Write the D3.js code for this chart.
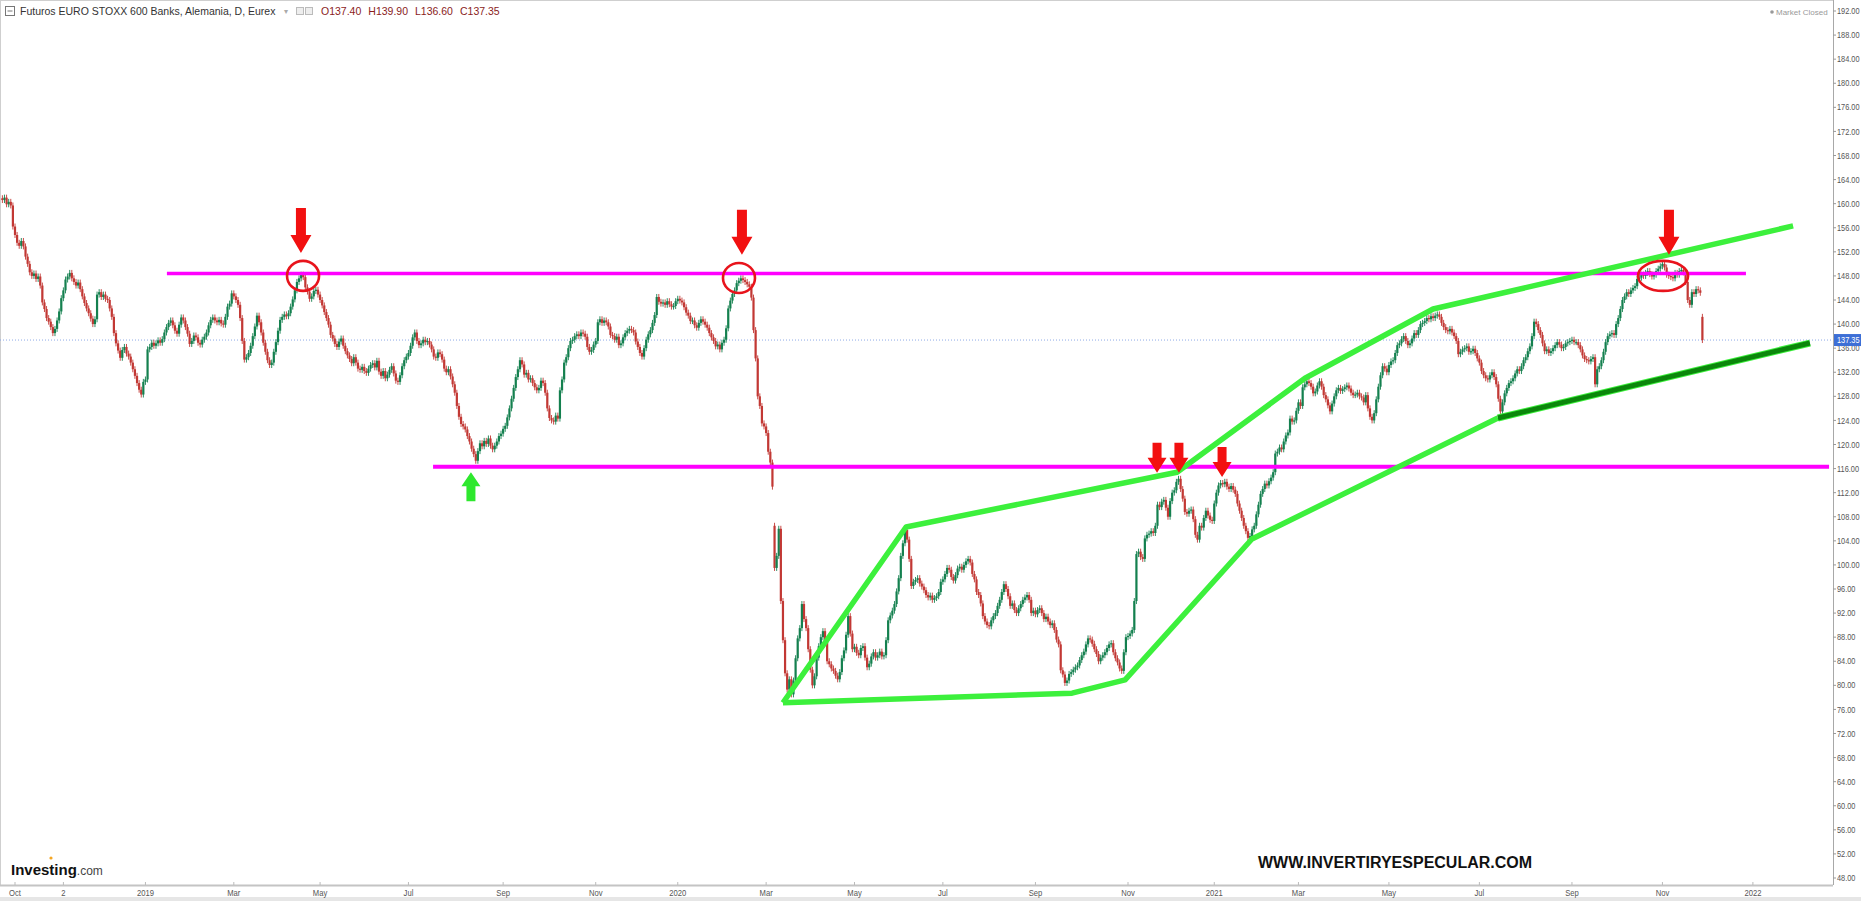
<html>
<head>
<meta charset="utf-8">
<script src="https://cdn.jsdelivr.net/npm/d3@7"></script>
<style>
	body { margin:0; background:#fff; }
	text { font-family: "Liberation Sans", Arial, sans-serif; }
	.ax { font-size:9px; fill:#555; }
</style>
</head>
<body>
<script type="text/javascript">

// ---- data (daily futures closes, first candle 2018-09-21) ----
var firstDay = "2018-09-21";
var lastCalendarDay = "2022-02-28";
// eurex days without a session
var holidays = ["2018-12-24","2018-12-25","2018-12-26","2018-12-31","2019-01-01","2019-04-19","2019-04-22","2019-05-01",
	"2019-12-24","2019-12-25","2019-12-26","2019-12-31","2020-01-01","2020-04-10","2020-04-13","2020-05-01",
	"2020-12-24","2020-12-25","2020-12-31","2021-01-01","2021-04-02","2021-04-05","2021-12-24","2021-12-31"];

var closes = [
	160.6,161.0,159.9,160.3,159.7,156.2,
	154.8,153.5,153.0,153.8,152.9,151.2,150.0,148.6,148.0,148.4,
	147.5,147.9,146.4,143.6,142.5,141.0,140.4,139.5,138.5,139.2,
	140.6,142.1,144.3,145.6,147.4,147.9,148.5,147.6,147.0,146.4,
	146.9,145.8,144.6,143.5,142.6,141.8,140.9,140.0,140.8,144.9,
	145.3,144.5,144.9,144.2,144.0,142.6,141.2,138.5,136.8,135.6,
	134.4,135.7,136.2,135.1,134.6,133.6,132.5,131.4,130.2,129.1,
	128.3,130.4,130.8,135.8,136.2,136.9,136.4,136.8,137.3,136.9,
	137.5,138.6,139.5,140.2,140.6,139.8,138.9,138.4,139.9,141.1,
	140.6,139.5,138.4,136.7,137.2,138.1,137.8,136.9,136.6,137.4,
	137.9,138.6,139.8,140.7,141.1,140.6,140.3,140.7,140.1,139.9,
	141.2,142.9,143.4,145.1,144.6,144.0,143.2,141.0,137.2,134.1,
	134.5,135.2,136.4,138.0,139.6,141.4,140.3,138.6,136.9,135.4,
	134.0,133.2,133.6,135.4,137.0,138.9,140.7,141.2,141.6,141.3,
	141.8,142.9,144.1,145.6,147.0,147.6,148.2,147.8,146.1,145.4,
	144.2,144.6,145.5,145.7,144.9,144.0,143.1,142.0,141.0,139.9,
	138.2,137.6,136.7,136.2,137.1,137.6,136.4,135.5,134.8,134.2,
	133.5,134.5,133.6,132.6,132.4,132.9,132.2,131.9,132.6,133.2,
	133.5,132.8,133.9,132.1,131.4,132.2,131.0,131.6,132.4,133.0,
	131.8,130.6,130.4,131.5,133.0,134.0,134.6,135.2,136.4,137.8,
	138.6,137.2,136.5,136.8,137.4,137.0,137.2,136.6,135.8,134.6,
	134.4,135.3,135.0,134.1,132.6,132.0,132.5,131.3,130.0,128.6,
	126.4,124.6,123.4,123.0,122.5,121.4,120.5,119.3,118.4,117.3,
	118.9,120.2,119.7,120.6,120.1,121.0,119.8,119.2,119.8,120.5,
	121.4,121.8,122.6,123.1,124.5,126.0,127.6,129.4,131.2,132.5,
	134.0,133.3,131.6,131.9,130.8,131.0,130.2,129.5,129.0,129.4,
	130.6,130.2,128.6,126.0,124.4,124.0,123.8,124.8,124.3,129.0,
	130.8,133.6,134.5,136.0,137.2,137.4,138.0,138.3,138.0,138.6,
	138.4,137.9,136.2,135.4,135.7,136.6,137.2,140.3,140.8,140.2,
	140.6,140.3,139.6,138.2,138.0,137.4,137.9,136.5,136.8,137.8,
	138.5,138.9,139.2,139.0,138.6,137.1,136.2,135.2,134.6,136.0,
	137.4,138.3,139.0,140.2,141.5,144.5,143.7,143.4,143.6,143.2,
	143.8,143.3,142.9,143.0,143.8,144.2,143.9,143.6,142.8,141.9,
	141.4,140.5,140.6,139.8,139.4,140.2,140.8,140.4,139.9,139.4,
	138.5,137.8,137.2,136.3,136.6,135.8,136.9,137.4,139.3,142.6,
	143.9,145.0,145.6,146.8,147.2,147.6,147.3,147.0,146.6,146.2,
	144.4,139.0,134.3,128.0,126.4,123.5,123.0,121.9,118.8,117.0,
	113.0,99.5,101.5,106.0,94.0,87.5,82.0,79.3,81.0,78.5,
	80.8,84.5,87.8,89.5,93.5,91.0,89.5,86.0,82.6,80.0,
	81.5,84.6,86.5,88.0,89.0,87.2,84.0,83.5,82.8,82.4,
	81.6,81.0,82.2,84.5,85.8,88.4,91.5,88.6,86.0,86.4,
	85.4,85.0,86.2,86.5,84.6,83.0,83.6,84.8,85.5,84.6,
	85.0,85.6,84.8,85.0,87.5,90.8,91.6,92.4,93.5,95.6,
	97.8,101.5,103.6,105.8,104.2,101.0,96.5,97.2,97.5,97.8,
	96.9,96.4,95.8,95.0,94.6,94.9,94.2,94.5,94.8,95.5,
	97.2,97.6,98.5,99.5,99.2,98.0,97.4,98.3,99.4,99.7,
	99.2,100.0,100.6,101.0,100.4,98.5,97.6,95.5,95.0,93.6,
	91.5,90.6,90.0,89.8,90.8,91.5,92.0,93.2,94.2,95.5,
	96.8,96.0,94.8,93.2,93.6,92.5,92.0,92.8,93.5,94.2,
	94.6,95.0,94.2,92.0,92.4,91.8,92.5,92.8,92.0,91.0,
	91.4,90.6,90.0,90.3,89.2,87.6,86.8,82.5,81.8,80.4,
	80.8,81.9,82.2,82.6,83.0,83.3,84.2,85.0,85.6,86.8,
	87.8,87.6,86.9,86.0,85.2,84.0,84.6,85.0,85.5,86.2,
	86.8,87.0,85.5,84.5,83.8,82.8,82.4,85.5,88.0,88.2,
	88.6,89.2,94.0,101.8,102.2,101.3,101.0,104.4,105.0,105.2,
	105.6,105.3,106.5,110.0,109.6,110.5,110.8,109.5,108.0,110.6,
	112.0,112.4,113.8,114.3,112.6,111.0,108.8,108.5,109.0,109.2,
	107.6,105.0,104.2,106.5,106.2,107.8,109.0,108.2,107.5,107.3,
	110.2,112.0,113.2,113.6,113.4,113.8,113.0,112.6,113.1,112.5,
	111.8,110.2,109.0,107.8,106.5,105.6,104.5,104.8,105.9,106.5,
	108.4,110.0,111.8,112.6,113.5,113.2,113.9,114.5,115.4,118.5,
	118.8,119.5,119.2,120.5,121.5,122.0,124.3,123.8,124.0,125.6,
	127.0,126.4,129.5,130.0,130.5,130.2,129.6,128.5,128.8,129.8,
	130.5,129.6,128.2,127.5,126.5,125.5,126.8,128.0,129.0,129.4,
	128.9,129.2,129.5,129.8,129.3,128.6,128.2,128.3,128.6,128.0,
	127.8,127.0,128.2,126.0,124.6,124.0,125.2,127.5,129.6,131.5,
	133.0,132.6,132.0,133.2,133.8,134.0,135.2,136.5,136.8,137.5,
	138.0,137.2,136.5,136.8,137.6,138.5,138.2,139.0,140.0,140.2,
	140.5,141.0,140.8,141.3,141.0,141.4,141.6,141.2,140.2,139.5,
	139.0,138.8,139.2,138.6,138.0,137.2,135.0,135.4,135.8,136.0,
	136.3,135.4,135.5,135.9,135.2,134.3,133.6,132.2,131.5,131.0,
	130.8,131.5,132.0,131.2,130.0,127.6,125.5,127.0,128.5,129.4,
	130.2,130.5,131.0,131.8,132.5,132.2,133.0,134.0,134.5,135.5,
	136.3,138.0,140.4,140.0,139.0,138.2,136.8,135.5,135.8,135.2,
	135.5,136.0,136.5,137.0,136.6,136.0,136.2,136.8,137.0,137.2,
	137.4,137.0,137.0,136.5,135.8,134.8,134.2,134.0,133.8,134.2,
	134.5,130.0,132.5,133.0,134.0,135.4,137.0,138.0,138.3,138.5,
	138.2,140.0,141.0,142.5,144.0,144.6,145.3,145.0,145.6,146.0,
	146.3,147.5,147.7,148.2,148.0,148.5,148.8,148.3,147.9,148.2,
	148.8,149.2,149.6,150.0,149.4,148.2,148.0,147.8,147.6,148.5,
	148.2,148.8,149.0,148.6,147.0,144.0,143.2,145.3,145.0,145.8,
	145.6,145.2,137.35
];
// opens that do not equal the previous close (candle number -> open)
var gapOpens = { 0: 160.9, 367: 106.5, 808: 141.2 };

var lastBar = { o: "137.40", h: "139.90", l: "136.60", c: "137.35" };

var tickDates  = ["2018-10-01","2018-11-01","2019-01-01","2019-03-01","2019-05-01","2019-07-01","2019-09-01","2019-11-01",
	"2020-01-01","2020-03-01","2020-05-01","2020-07-01","2020-09-01","2020-11-01","2021-01-01","2021-03-01",
	"2021-05-01","2021-07-01","2021-09-01","2021-11-01","2022-01-01"];
var tickLabels = ["Oct","2","2019","Mar","May","Jul","Sep","Nov","2020","Mar","May","Jul","Sep","Nov","2021","Mar",
	"May","Jul","Sep","Nov","2022"];
var priceTicks = d3.range(48, 193, 4);

// drawings on the chart: [candle number, price]
var resistance = [[78.2, 148.4], [828.7, 148.4]];
var support    = [[204.7, 116.3], [868.2, 116.3]];
var upperTrend = [[371.0, 77.1], [429.5, 106.3], [558.3, 115.4], [619.1, 131.0], [680.0, 142.5], [851.1, 156.3]];
var lowerTrend = [[371.0, 77.1], [508.4, 78.7], [533.6, 80.9], [593.9, 104.3], [710.8, 124.4]];
var darkTrend  = [[710.8, 124.4], [859.1, 136.85]];
var circles    = [[142.9, 148.0], [350.1, 147.65], [789.3, 148.0]];
var bigArrows  = [[141.9, 151.8], [351.5, 151.5], [792.1, 151.5]];
var smallArrows = [[548.8, 115.3], [559.2, 115.3], [579.7, 114.6]];
var upArrows   = [[222.7, 115.4]];

// ---- trading calendar ----
var parse = d3.timeParse("%Y-%m-%d"), fmt = d3.timeFormat("%Y-%m-%d");
var hol = new Set(holidays);
var days = d3.timeDay.range(parse(firstDay), d3.timeDay.offset(parse(lastCalendarDay), 1))
	.filter(function(d){ return d.getDay() != 0 && d.getDay() != 6 && !hol.has(fmt(d)); });
function dayIndex(s){
	var t = parse(s);
	for (var i = 0; i < days.length; i++) if (days[i] >= t) return i;
	return days.length;
}

var W = 1861, H = 901;
var plotR = 1833, plotB = 885;

var svg = d3.select("body").append("svg").attr("width", W).attr("height", H);

var x = d3.scaleLinear().domain([-1.13, 870.07]).range([0, plotR]);
var y = d3.scaleLinear().domain([48, 192]).range([878, 11]);

svg.append("rect").attr("width", W).attr("height", H).attr("fill", "#fff");
svg.append("rect").attr("x", 0).attr("y", 897).attr("width", W).attr("height", 4).attr("fill", "#e6e6e6");

// frame
svg.append("line").attr("x1", 0).attr("x2", plotR).attr("y1", 0.5).attr("y2", 0.5).attr("stroke", "#cfcfcf");
svg.append("line").attr("x1", 0.5).attr("x2", 0.5).attr("y1", 0).attr("y2", plotB).attr("stroke", "#cfcfcf");

// y axis (right), narrow labels
svg.append("line").attr("x1", plotR + 0.5).attr("x2", plotR + 0.5).attr("y1", 0).attr("y2", plotB).attr("stroke", "#a8a8a8");
var yt = svg.append("g").selectAll("g").data(priceTicks).enter().append("g")
	.attr("transform", function(d){ return "translate(0," + y(d) + ")"; });
yt.append("line").attr("x1", plotR).attr("x2", plotR + 3).attr("stroke", "#999");
yt.append("text").attr("class", "ax").attr("dy", "0.35em")
	.attr("transform", "translate(" + (plotR + 4) + ",0) scale(0.82,1)")
	.text(function(d){ return d.toFixed(2); });

// x axis
svg.append("line").attr("x1", 0).attr("x2", plotR).attr("y1", plotB + 0.5).attr("y2", plotB + 0.5).attr("stroke", "#c4c4c4").attr("stroke-width", 2);
var xt = svg.append("g").selectAll("g").data(tickDates).enter().append("g")
	.attr("transform", function(d){ return "translate(" + x(dayIndex(d)) + ",0)"; });
xt.append("line").attr("y1", plotB - 3).attr("y2", plotB).attr("stroke", "#bbb");
xt.append("text").attr("class", "ax").attr("text-anchor", "middle")
	.attr("transform", "translate(0," + (plotB + 11) + ") scale(0.85,1)")
	.text(function(d, i){ return tickLabels[i]; });

// last price line
var last = closes[closes.length - 1];
svg.append("line").attr("x1", 0).attr("x2", plotR).attr("y1", y(last)).attr("y2", y(last))
	.attr("stroke", "#8eaae6").attr("stroke-dasharray", "1,2");
svg.append("rect").attr("x", plotR + 1).attr("y", y(last) - 6).attr("width", W - plotR - 1).attr("height", 12).attr("fill", "#3d6fd6");
svg.append("text").attr("class", "ax").attr("dy", "0.35em")
	.attr("transform", "translate(" + (plotR + 4) + "," + y(last) + ") scale(0.82,1)")
	.style("fill", "#fff").text(last.toFixed(2));

// candles
var candles = closes.map(function(c, i){
	var o = (i in gapOpens) ? gapOpens[i] : closes[i - 1];
	return { i: i, o: o, c: c };
});
var up = "#14804f", down = "#c23834";
var cg = svg.append("g");
cg.selectAll("line").data(candles).enter().append("line")
	.attr("x1", function(d){ return x(d.i); }).attr("x2", function(d){ return x(d.i); })
	.attr("y1", function(d){ return y(Math.max(d.o, d.c)) - 3; })
	.attr("y2", function(d){ return y(Math.min(d.o, d.c)) + 3; })
	.attr("stroke", function(d){ return d.c >= d.o ? up : down; }).attr("stroke-width", 0.9);
cg.selectAll("rect").data(candles).enter().append("rect")
	.attr("x", function(d){ return x(d.i) - 1.1; }).attr("width", 2.2)
	.attr("y", function(d){ return y(Math.max(d.o, d.c)); })
	.attr("height", function(d){ return Math.max(1.2, Math.abs(y(d.o) - y(d.c))); })
	.attr("fill", function(d){ return d.c >= d.o ? up : down; });

// drawings
var line = d3.line().x(function(d){ return x(d[0]); }).y(function(d){ return y(d[1]); });
svg.append("path").attr("d", line(resistance)).attr("stroke", "#ff00ff").attr("stroke-width", 3.5).attr("fill", "none");
svg.append("path").attr("d", line(support)).attr("stroke", "#ff00ff").attr("stroke-width", 4).attr("fill", "none");
[upperTrend, lowerTrend].forEach(function(p){
	svg.append("path").attr("d", line(p)).attr("stroke", "#3cf03c").attr("stroke-width", 5.5)
		.attr("fill", "none").attr("stroke-linejoin", "round");
});
svg.append("path").attr("d", line(darkTrend)).attr("stroke", "#3cf03c").attr("stroke-width", 7).attr("fill", "none");
svg.append("path").attr("d", line(darkTrend)).attr("stroke", "#0b870b").attr("stroke-width", 5).attr("fill", "none");

svg.selectAll("ellipse.c").data(circles).enter().append("ellipse")
	.attr("cx", function(d){ return x(d[0]); }).attr("cy", function(d){ return y(d[1]); })
	.attr("rx", function(d, i){ return i == 2 ? 25 : 16; }).attr("ry", 15)
	.attr("fill", "none").attr("stroke", "#e8141c").attr("stroke-width", 2.6);

function arrow(len, head, shaft, hw){
	return "M" + (-shaft/2) + "," + (-len) + "L" + (shaft/2) + "," + (-len) + "L" + (shaft/2) + "," + (-head) +
		"L" + (hw/2) + "," + (-head) + "L0,0L" + (-hw/2) + "," + (-head) + "L" + (-shaft/2) + "," + (-head) + "Z";
}
svg.selectAll("path.ba").data(bigArrows).enter().append("path")
	.attr("d", arrow(45, 18, 10, 21)).attr("fill", "#f21010")
	.attr("transform", function(d){ return "translate(" + x(d[0]) + "," + y(d[1]) + ")"; });
svg.selectAll("path.sa").data(smallArrows).enter().append("path")
	.attr("d", arrow(30, 15, 9, 19)).attr("fill", "#f21010")
	.attr("transform", function(d){ return "translate(" + x(d[0]) + "," + y(d[1]) + ")"; });
svg.selectAll("path.ua").data(upArrows).enter().append("path")
	.attr("d", arrow(29, 14, 9, 19)).attr("fill", "#2ee82e")
	.attr("transform", function(d){ return "translate(" + x(d[0]) + "," + y(d[1]) + ") rotate(180)"; });

// header
svg.append("rect").attr("x", 5.5).attr("y", 6.5).attr("width", 9).attr("height", 9).attr("fill", "none").attr("stroke", "#777");
svg.append("line").attr("x1", 7.5).attr("x2", 12.5).attr("y1", 11).attr("y2", 11).attr("stroke", "#777");
svg.append("text").attr("x", 20).attr("y", 15).style("font-size", "10.5px").style("fill", "#333")
	.text("Futuros EURO STOXX 600 Banks, Alemania, D, Eurex");
svg.append("text").attr("x", 284).attr("y", 14).style("font-size", "8px").style("fill", "#aaa").text("\u25BE");
svg.append("rect").attr("x", 296.5).attr("y", 7.5).attr("width", 7).attr("height", 7).attr("fill", "#eee").attr("stroke", "#bbb");
svg.append("rect").attr("x", 305.5).attr("y", 7.5).attr("width", 7).attr("height", 7).attr("fill", "#eee").attr("stroke", "#bbb");
var hx = 321;
["O" + lastBar.o, "H" + lastBar.h, "L" + lastBar.l, "C" + lastBar.c].forEach(function(t){
	var tx = svg.append("text").attr("x", hx).attr("y", 15).style("font-size", "10.5px").style("fill", "#8a1c1c").text(t);
	hx += tx.node().getComputedTextLength() + 7;
});

svg.append("circle").attr("cx", 1772).attr("cy", 12).attr("r", 1.8).attr("fill", "#999");
svg.append("text").attr("x", 1776).attr("y", 15).style("font-size", "8px").style("fill", "#999").text("Market Closed");

// logo + watermark
svg.append("text").attr("x", 11).attr("y", 875).style("font-size", "15px").style("font-weight", "bold").style("fill", "#111")
	.text("Investing").append("tspan").style("font-weight", "normal").style("font-size", "12px").style("fill", "#444").text(".com");
svg.append("circle").attr("cx", 51).attr("cy", 858).attr("r", 1.6).attr("fill", "#f5a623");

svg.append("text").attr("x", 1258).attr("y", 868).style("font-size", "16px").style("font-weight", "bold").style("fill", "#111")
	.text("WWW.INVERTIRYESPECULAR.COM");

</script>
</body>
</html>
